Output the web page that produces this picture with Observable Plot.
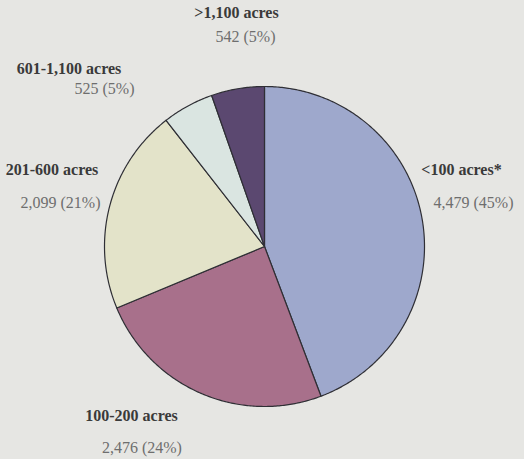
<!DOCTYPE html>
<html>
<head>
<meta charset="utf-8">
<script src="https://cdn.jsdelivr.net/npm/d3@7"></script>
<script src="https://cdn.jsdelivr.net/npm/@observablehq/plot@0.6"></script>
<style>
  html, body { margin: 0; padding: 0; background: #e6e6e3; }
  #chart { width: 524px; height: 459px; }
</style>
</head>
<body>
<div id="chart"></div>
<script>
// Data
const categories = ["<100 acres*", "100-200 acres", "201-600 acres", "601-1,100 acres", ">1,100 acres"];
const counts = [4479, 2476, 2099, 525, 542];
const valueLabels = ["4,479 (45%)", "2,476 (24%)", "2,099 (21%)", "525 (5%)", "542 (5%)"];
const colors = ["#9ea8cc", "#a8708b", "#e3e3c9", "#dae5e1", "#5b4870"];

// Label layout (in pie-radius units, center = 0,0)
const nameX = [1.231, -0.831, -1.328, -1.222, -0.175];
const nameY = [0.481, -1.056, 0.481, 1.1125, 1.4625];
const valX = [1.306, -0.766, -1.275, -1.0, -0.119];
const valY = [0.275, -1.256, 0.275, 0.9875, 1.3125];

const arcs = d3.pie().sort(null).startAngle(0).endAngle(2 * Math.PI)(counts);
const pts = [];
arcs.forEach((a, i) => {
  pts.push({slice: i, x: 0, y: 0, fill: colors[i]});
  const n = Math.max(2, Math.ceil((a.endAngle - a.startAngle) / 0.01));
  for (let k = 0; k <= n; k++) {
    const t = a.startAngle + (a.endAngle - a.startAngle) * k / n;
    pts.push({slice: i, x: Math.sin(t), y: Math.cos(t), fill: colors[i]});
  }
});

const names = categories.map((c, i) => ({text: c, x: nameX[i], y: nameY[i]}));
const vals = valueLabels.map((c, i) => ({text: c, x: valX[i], y: valY[i]}));

const chart = Plot.plot({
  width: 524,
  height: 459,
  margin: 0,
  style: {background: "transparent", fontFamily: "'Liberation Serif', serif"},
  x: {domain: [-1, 1], range: [104, 424], axis: null},
  y: {domain: [-1, 1], range: [406, 86], axis: null},
  color: {type: "identity"},
  marks: [
    Plot.line(pts, {x: "x", y: "y", z: "slice", fill: "fill", stroke: "#2f2f35", strokeWidth: 1.2, curve: "linear-closed"}),
    Plot.text(names, {x: "x", y: "y", text: "text", fontSize: 16, fontWeight: "bold", fill: "#3a3a3a", textAnchor: "middle"}),
    Plot.text(vals, {x: "x", y: "y", text: "text", fontSize: 16, fill: "#6e6e6e", textAnchor: "middle"})
  ]
});
document.getElementById("chart").appendChild(chart);
</script>
</body>
</html>
